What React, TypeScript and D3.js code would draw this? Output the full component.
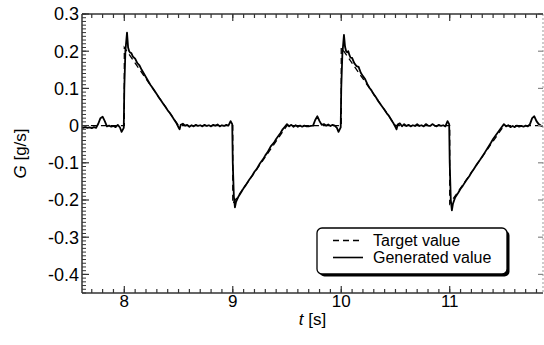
import React from 'react';
import * as d3 from 'd3';

// target (dashed) signal breakpoints [t, G]
const targetSeries: [number, number][] = [
  [7.6, 0], [8.0, 0], [8.0, 0.21], [8.5, 0], [9.0, 0], [9.0, -0.21], [9.5, 0],
  [10.0, 0], [10.0, 0.21], [10.5, 0], [11.0, 0], [11.0, -0.21], [11.5, 0], [11.9, 0],
];

// generated (solid) signal [t, G]
const generatedSeries: [number, number][] = [
  [7.6, -0.005], [7.62, -0.006], [7.64, -0.004], [7.66, -0.006], [7.68, -0.005], [7.7, -0.007],
  [7.72, -0.004], [7.74, -0.006], [7.76, 0.005], [7.78, 0.02], [7.8, 0.024], [7.82, 0.012],
  [7.84, -0.002], [7.86, 0.0], [7.88, -0.003], [7.9, -0.001], [7.92, -0.004], [7.94, 0.002],
  [7.96, -0.005], [7.975, -0.017], [7.995, -0.006], [8.0, 0.1], [8.01, 0.2], [8.025, 0.25],
  [8.035, 0.21], [8.045, 0.2], [8.055, 0.196], [8.065, 0.195], [8.08, 0.185], [8.1, 0.18],
  [8.12, 0.168], [8.14, 0.162], [8.16, 0.15], [8.18, 0.14], [8.2, 0.13], [8.22, 0.12],
  [8.24, 0.11], [8.26, 0.102], [8.28, 0.093], [8.3, 0.084], [8.32, 0.075], [8.34, 0.067],
  [8.36, 0.058], [8.38, 0.05], [8.4, 0.041], [8.42, 0.034], [8.44, 0.025], [8.46, 0.016],
  [8.48, 0.007], [8.5, -0.005], [8.51, -0.01], [8.52, 0.002], [8.54, 0.005],
  [8.56, 0.0], [8.58, 0.002], [8.6, -0.003], [8.62, 0.001], [8.64, -0.002], [8.66, 0.002],
  [8.68, -0.001], [8.7, 0.001], [8.72, -0.002], [8.74, 0.002], [8.76, -0.001], [8.78, 0.001],
  [8.8, -0.002], [8.82, 0.002], [8.84, 0.0], [8.86, 0.003], [8.88, -0.002], [8.9, 0.001],
  [8.92, -0.001], [8.94, 0.002], [8.96, 0.0], [8.98, 0.012], [8.995, 0.004], [9.0, -0.1],
  [9.01, -0.19], [9.02, -0.22], [9.03, -0.205], [9.05, -0.192], [9.08, -0.178], [9.1, -0.168],
  [9.12, -0.16], [9.15, -0.146], [9.18, -0.134], [9.2, -0.124], [9.22, -0.117], [9.25, -0.102],
  [9.28, -0.09], [9.3, -0.08], [9.32, -0.072], [9.35, -0.056], [9.38, -0.046], [9.4, -0.036],
  [9.42, -0.028], [9.44, -0.02], [9.46, -0.01], [9.48, -0.003], [9.5, 0.004], [9.52, -0.002],
  [9.54, 0.002], [9.56, -0.003], [9.58, 0.001], [9.6, -0.003], [9.62, 0.0], [9.64, -0.003],
  [9.66, 0.0], [9.68, -0.002], [9.7, -0.002], [9.72, -0.001], [9.74, 0.0], [9.76, 0.015],
  [9.78, 0.025], [9.8, 0.012], [9.82, 0.002], [9.84, 0.004], [9.86, 0.0], [9.88, 0.003],
  [9.9, -0.001], [9.92, 0.002], [9.94, 0.0], [9.96, -0.006], [9.975, -0.017], [9.995, -0.005],
  [10.0, 0.1], [10.01, 0.19], [10.025, 0.244], [10.035, 0.212], [10.045, 0.2], [10.055, 0.197],
  [10.065, 0.2], [10.075, 0.19], [10.085, 0.183], [10.1, 0.182], [10.12, 0.168], [10.14, 0.16],
  [10.16, 0.158], [10.18, 0.142], [10.2, 0.133], [10.22, 0.125], [10.24, 0.112], [10.26, 0.102],
  [10.28, 0.094], [10.3, 0.084], [10.32, 0.076], [10.34, 0.066], [10.36, 0.058], [10.38, 0.05],
  [10.4, 0.042], [10.42, 0.033], [10.44, 0.026], [10.46, 0.016], [10.48, 0.007], [10.5, -0.004],
  [10.51, -0.01], [10.52, 0.003], [10.54, 0.006], [10.56, -0.002], [10.58, 0.004], [10.6, -0.001],
  [10.62, 0.002], [10.64, -0.002], [10.66, 0.001], [10.68, -0.001], [10.7, 0.004], [10.72, -0.001],
  [10.74, 0.001], [10.76, -0.002], [10.78, 0.004], [10.8, 0.0], [10.82, -0.001], [10.84, 0.004],
  [10.86, 0.0], [10.88, -0.002], [10.9, 0.002], [10.92, -0.001], [10.94, 0.001], [10.96, -0.002],
  [10.98, 0.012], [10.995, 0.004], [11.0, -0.1], [11.01, -0.2], [11.02, -0.228], [11.03, -0.21],
  [11.05, -0.193], [11.08, -0.18], [11.1, -0.17], [11.12, -0.162], [11.15, -0.148], [11.18, -0.136],
  [11.2, -0.126], [11.22, -0.118], [11.25, -0.104], [11.28, -0.092], [11.3, -0.083], [11.32, -0.074],
  [11.35, -0.06], [11.38, -0.046], [11.4, -0.036], [11.42, -0.028], [11.44, -0.02], [11.46, -0.012],
  [11.48, -0.004], [11.5, 0.004], [11.52, -0.002], [11.54, 0.001], [11.56, -0.004], [11.58, -0.001],
  [11.6, -0.004], [11.62, 0.0], [11.64, -0.003], [11.66, -0.001], [11.68, -0.003], [11.7, 0.0],
  [11.72, -0.002], [11.74, 0.004], [11.76, 0.02], [11.78, 0.025], [11.8, 0.012], [11.82, 0.004],
  [11.84, 0.0], [11.86, -0.002],
];

const xTicks = [8, 9, 10, 11];
const yTicks = [0.3, 0.2, 0.1, 0, -0.1, -0.2, -0.3, -0.4];
const yTickLabels = ['0.3', '0.2', '0.1', '0', '-0.1', '-0.2', '-0.3', '-0.4'];
const legendLabels = ['Target value', 'Generated value'];

const W = 544;
const H = 345;
const margin = { top: 14, right: 1, bottom: 52, left: 82 };
const FONT = 'Liberation Sans, Arial, sans-serif';

const App: React.FC = () => {
  const innerW = W - margin.left - margin.right;
  const innerH = H - margin.top - margin.bottom;

  const x = d3.scaleLinear().domain([7.61, 11.86]).range([0, innerW]);
  const y = d3.scaleLinear().domain([-0.45, 0.3]).range([innerH, 0]);

  const line = d3
    .line<[number, number]>()
    .x((d) => x(d[0]))
    .y((d) => y(d[1]));

  const xMinor = d3.range(77, 119).map((v) => v / 10);
  const yMinor = d3.range(-45, 31).map((v) => v / 100);

  const axisColor = '#333';

  return (
    <div style={{ position: 'absolute', left: 0, top: 0 }}>
      <svg width={W} height={H} style={{ display: 'block', background: '#fff' }}>
        <defs>
          <clipPath id="plot-clip">
            <rect x={0} y={0} width={innerW} height={innerH} />
          </clipPath>
        </defs>
        <g transform={`translate(${margin.left},${margin.top})`}>
          {/* series */}
          <g clipPath="url(#plot-clip)">
            <path
              d={line(targetSeries) || ''}
              fill="none"
              stroke="#000"
              strokeWidth={1.3}
              strokeDasharray="6,4"
            />
            <path
              d={line(generatedSeries) || ''}
              fill="none"
              stroke="#000"
              strokeWidth={1.8}
              strokeLinejoin="round"
            />
          </g>

          {/* right frame, dotted */}
          <line x1={innerW} x2={innerW} y1={0} y2={innerH} stroke="#999" strokeWidth={1} strokeDasharray="2,2" />
          {yTicks.map((t) => (
            <line key={'r' + t} x1={innerW - 5} x2={innerW} y1={y(t)} y2={y(t)} stroke="#888" strokeWidth={1.2} />
          ))}

          {/* top axis */}
          <line x1={0} x2={innerW} y1={0} y2={0} stroke={axisColor} strokeWidth={1.5} />
          {xMinor.map((t) => (
            <line key={'tm' + t} x1={x(t)} x2={x(t)} y1={0} y2={4} stroke={axisColor} strokeWidth={1.2} />
          ))}
          {xTicks.map((t) => (
            <line key={'tM' + t} x1={x(t)} x2={x(t)} y1={0} y2={7} stroke={axisColor} strokeWidth={1.2} />
          ))}

          {/* bottom axis */}
          <line x1={0} x2={innerW} y1={innerH} y2={innerH} stroke={axisColor} strokeWidth={1.5} />
          {xMinor.map((t) => (
            <line key={'bm' + t} x1={x(t)} x2={x(t)} y1={innerH} y2={innerH - 4} stroke={axisColor} strokeWidth={1.2} />
          ))}
          {xTicks.map((t) => (
            <g key={'bM' + t}>
              <line x1={x(t)} x2={x(t)} y1={innerH} y2={innerH - 7} stroke={axisColor} strokeWidth={1.2} />
              <text
                x={x(t)}
                y={innerH + 14}
                textAnchor="middle"
                fontFamily={FONT}
                fontSize={17}
                fill="#000"
              >
                {t}
              </text>
            </g>
          ))}

          {/* left axis */}
          <line x1={0} x2={0} y1={0} y2={innerH} stroke={axisColor} strokeWidth={1.5} />
          {yMinor.map((t) => (
            <line key={'lm' + t} x1={0} x2={4} y1={y(t)} y2={y(t)} stroke={axisColor} strokeWidth={1} />
          ))}
          {yTicks.map((t, i) => (
            <g key={'lM' + t}>
              <line x1={0} x2={7} y1={y(t)} y2={y(t)} stroke={axisColor} strokeWidth={1.2} />
              <text
                x={-3}
                y={y(t)}
                dy="0.36em"
                textAnchor="end"
                fontFamily={FONT}
                fontSize={18}
                fill="#000"
              >
                {yTickLabels[i]}
              </text>
            </g>
          ))}

          {/* axis titles */}
          <text
            x={innerW / 2}
            y={innerH + 32}
            textAnchor="middle"
            fontFamily={FONT}
            fontSize={17}
            fill="#000"
          >
            <tspan fontStyle="italic">t</tspan> [s]
          </text>
          <text
            transform={`translate(${20 - margin.left},${innerH / 2}) rotate(-90)`}
            textAnchor="middle"
            dy="0.36em"
            fontFamily={FONT}
            fontSize={17}
            fill="#000"
          >
            <tspan fontStyle="italic">G</tspan> [g/s]
          </text>

          {/* legend */}
          <g transform={`translate(${317 - margin.left},${228 - margin.top})`}>
            <rect x={2.5} y={2.5} width={190} height={46} rx={5} fill="#000" />
            <rect x={0} y={0} width={190} height={46} rx={5} fill="#fff" stroke="#000" strokeWidth={1.3} />
            {legendLabels.map((lab, i) => (
              <g key={lab} transform={`translate(0,${12.5 + i * 17})`}>
                <line
                  x1={16}
                  x2={46}
                  y1={0}
                  y2={0}
                  stroke="#000"
                  strokeWidth={i === 0 ? 1.3 : 1.6}
                  strokeDasharray={i === 0 ? '6,4' : undefined}
                />
                <text x={56} y={0} dy="0.36em" fontFamily={FONT} fontSize={16} fill="#000">
                  {lab}
                </text>
              </g>
            ))}
          </g>
        </g>
      </svg>
    </div>
  );
};

export default App;
